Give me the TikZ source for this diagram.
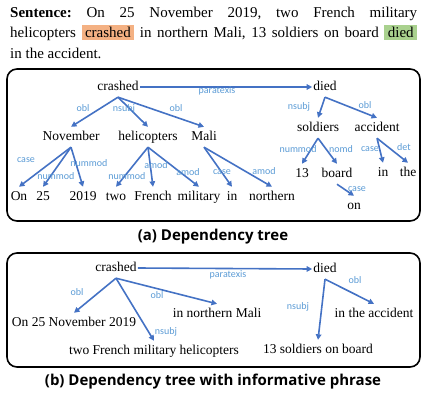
\documentclass[tikz,border=0pt]{standalone}
\usepackage{fontspec}
\setmainfont{Liberation Serif}
\newfontfamily\lblfont{Carlito}
\newfontfamily\capfont{Open Sans}
\usetikzlibrary{arrows.meta}

\definecolor{depblue}{HTML}{4472C4}
\definecolor{relblue}{HTML}{5B9BD5}
\definecolor{crashbg}{HTML}{F4B183}
\definecolor{diedbg}{HTML}{A9D18E}

\newcommand{\hlword}[2]{{\setlength{\fboxsep}{1.5pt}%
  \colorbox{#1}{\hspace{2pt}\rule[-1pt]{0pt}{12.5pt}#2\hspace{2pt}}}}

\begin{document}
\begin{tikzpicture}[
  x=1pt, y=-1pt,
  word/.style={inner xsep=1pt, inner ysep=4pt, text height=9pt, text depth=3pt,
               font=\fontsize{13.5}{16}\selectfont},
  rel/.style={text=relblue, inner sep=0pt, font=\lblfont\fontsize{10}{12}\selectfont},
  dep/.style={draw=depblue, line width=1.6pt, -{Triangle[length=5.5pt,width=5.5pt]}},
  panel/.style={draw=black, line width=1.6pt, rounded corners=10pt},
  capt/.style={font=\capfont\bfseries\fontsize{15}{18}\selectfont, inner sep=0pt},
  sent/.style={text width=407pt, align=justify, inner sep=0pt,
               font=\fontsize{15}{20.3}\selectfont\frenchspacing},
]
\useasboundingbox (0,0) rectangle (427,396);

%% ── Sentence ─────────────────────────────────────────────────────────────────
\node[sent, anchor=north west] (sentence) at (10,7)
  {\textbf{Sentence:} On 25 November 2019, two French military\linebreak
   helicopters \hlword{crashbg}{crashed} in northern Mali, 13 soldiers on board
   \hlword{diedbg}{died}\linebreak in the accident.};

%% ── (a) Dependency tree ──────────────────────────────────────────────────────
\draw[panel] (7,69) rectangle (420,221);

\node[word] (crashA) at (118,87) {crashed};
\node[word] (diedA) at (325,87) {died};

\node[word] (nov) at (71,137) {November};
\node[word] (heli) at (148,137) {helicopters};
\node[word] (mali) at (204,137) {Mali};
\node[word] (sold) at (318,128) {soldiers};
\node[word] (acc) at (377,128) {accident};

\node[word] (on) at (19,197) {On};
\node[word] (d25) at (43,197) {25};
\node[word] (y2019) at (83,197) {2019};
\node[word] (two) at (116,197) {two};
\node[word] (french) at (153,197) {French};
\node[word] (mil) at (199,197) {military};
\node[word] (inM) at (232,197) {in};
\node[word] (north) at (272,197) {northern};
\node[word] (n13) at (302,174) {13};
\node[word] (board) at (337,174) {board};
\node[word] (inA) at (383,173) {in};
\node[word] (the) at (408,173) {the};
\node[word] (onB) at (354,206) {on};

\draw[dep] (crashA.east) -- (diedA.west);
\draw[dep] (crashA.south) -- (nov.north);
\draw[dep] (crashA.south) -- (heli.north);
\draw[dep] (crashA.south) -- (mali.north);
\draw[dep] (diedA.south) -- (sold.north);
\draw[dep] (diedA.south) -- (acc.north);
\draw[dep] (nov.south) -- (on.north);
\draw[dep] (nov.south) -- (d25.north);
\draw[dep] (nov.south) -- (y2019.north);
\draw[dep] (heli.south) -- (two.north);
\draw[dep] (heli.south) -- (french.north);
\draw[dep] (heli.south) -- (mil.north);
\draw[dep] (mali.south) -- (inM.north);
\draw[dep] (mali.south) -- (north.north);
\draw[dep] (sold.south) -- (n13.north);
\draw[dep] (sold.south) -- (board.north);
\draw[dep] (acc.south) -- (inA.north);
\draw[dep] (acc.south) -- (the.north);
\draw[dep] (board.south) -- (onB.north);

%% relation labels
\node[rel] (rA1) at (217,91) {paratexis};
\node[rel] (rA2) at (83,108) {obl};
\node[rel] (rA3) at (124,109) {nsubj};
\node[rel] (rA4) at (176,108) {obl};
\node[rel] (rA5) at (299,107) {nsubj};
\node[rel] (rA6) at (365,105) {obl};
\node[rel] (rA7) at (26,160) {case};
\node[rel] (rA8) at (56,176) {nummod};
\node[rel] (rA9) at (89,163) {nummod};
\node[rel] (rA10) at (127,176) {nummod};
\node[rel] (rA11) at (156,165) {amod};
\node[rel] (rA12) at (188,172) {amod};
\node[rel] (rA13) at (222,172) {case};
\node[rel] (rA14) at (264,171) {amod};
\node[rel] (rA15) at (298,149) {nummod};
\node[rel] (rA16) at (341,149) {nomd};
\node[rel] (rA17) at (370,149) {case};
\node[rel] (rA18) at (404,147) {det};
\node[rel] (rA19) at (357,189) {case};

\node[capt] (captA) at (213,237) {(a) Dependency tree};

%% ── (b) Dependency tree with informative phrase ─────────────────────────────
\draw[panel] (7,253) rectangle (420,367);

\node[word] (crashB) at (116,268) {crashed};
\node[word] (diedB) at (325,269) {died};
\node[word] (when) at (74,323) {On 25 November 2019};
\node[word] (where) at (217,314) {in northern Mali};
\node[word] (who) at (154,351) {two French military helicopters};
\node[word] (cause) at (374,314) {in the accident};
\node[word] (whom) at (318,350) {13 soldiers on board};

\draw[dep] (crashB.east) -- (diedB.west);
\draw[dep] (crashB.south) -- (when.north);
\draw[dep] (crashB.south) -- (who.north);
\draw[dep] (crashB.south) -- (where.north);
\draw[dep] (diedB.south) -- (whom.north);
\draw[dep] (diedB.south) -- (cause.north);

\node[rel] (rB1) at (228,275) {paratexis};
\node[rel] (rB2) at (77,292) {obl};
\node[rel] (rB3) at (157,295) {obl};
\node[rel] (rB4) at (166,332) {nsubj};
\node[rel] (rB5) at (298,307) {nsubj};
\node[rel] (rB6) at (355,280) {obl};

\node[capt] (captB) at (213,382) {(b) Dependency tree with informative phrase};

\end{tikzpicture}
\end{document}
